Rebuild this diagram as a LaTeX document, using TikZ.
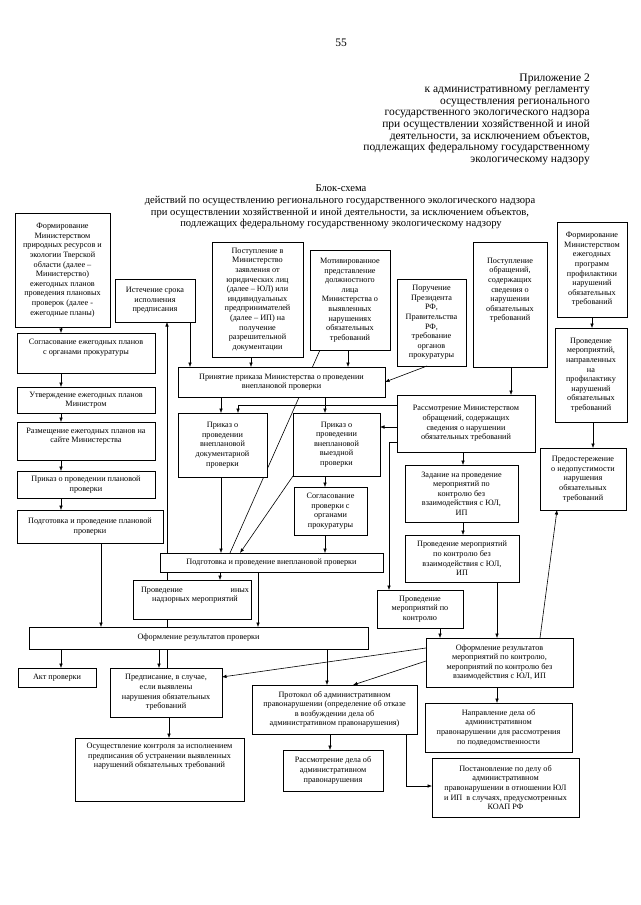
\documentclass[tikz,border=0pt]{standalone}
\usepackage{fontspec}
\setmainfont{Liberation Serif}
\usetikzlibrary{arrows.meta,backgrounds}
\tikzset{
  box/.style={draw, fill=white, line width=0.6pt, inner sep=2pt, outer sep=0pt,
    font=\fontsize{8.2}{9.6}\selectfont},
  arr/.style={-{Latex[length=4.5pt,width=3.6pt]}, line width=0.6pt},
  ln/.style={line width=0.6pt},
  hdr/.style={inner sep=0pt, font=\fontsize{11.5}{11.6}\selectfont},
  ttl/.style={inner sep=0pt, font=\fontsize{10.6}{11.5}\selectfont},
}
\newcommand\flowbox[7][c]{%
  \pgfmathsetmacro\fbW{#5-#3}\pgfmathsetmacro\fbH{#6-#4-4}\pgfmathsetmacro\fbT{#5-#3-4}%
  \node[box,anchor=north west,minimum width=\fbW pt] (#2) at (#3,#4)
    {\parbox[t][\fbH pt][#1]{\fbT pt}{\centering #7}};}
\begin{document}
\begin{tikzpicture}[x=1pt,y=-1pt]
\useasboundingbox (0,0) rectangle (640,905);

\node[hdr, anchor=base] (pg) at (341,46) {55};
\foreach \t [count=\i] in {Приложение 2, к административному регламенту, осуществления регионального, государственного экологического надзора, при осуществлении хозяйственной и иной, {деятельности, за исключением объектов,}, подлежащих федеральному государственному, экологическому надзору}
  \node[hdr, anchor=base east] (h\i) at (590,{81+11.6*(\i-1)}) {\t};

\node[ttl, anchor=base] (t0) at (341,191) {Блок-схема};
\node[ttl, anchor=base] (t1) at (340,203) {действий по осуществлению регионального государственного экологического надзора};
\node[ttl, anchor=base] (t2) at (340,215) {при осуществлении хозяйственной и иной деятельности, за исключением объектов,};
\node[ttl, anchor=base] (t3) at (341,226) {подлежащих федеральному государственному экологическому надзору};

% left column
\flowbox{b1}{15}{213}{110}{327}{Формирование\\Министерством\\природных ресурсов и\\экологии Тверской\\области (далее –\\Министерство)\\ежегодных планов\\проведения плановых\\проверок (далее -\\ежегодные планы)}
\flowbox[t]{b2}{17}{333}{155}{373}{\vspace*{4.5pt}Согласование ежегодных планов\\с органами прокуратуры}
\flowbox{b3}{17}{387}{155}{413}{Утверждение ежегодных планов\\Министром}
\flowbox[t]{b4}{17}{422}{155}{460}{\vspace*{4pt}Размещение ежегодных планов на\\сайте Министерства}
\flowbox{b5}{17}{471}{155}{498}{Приказ о проведении плановой\\проверки}
\flowbox{b6}{17}{510}{163}{543}{Подготовка и проведение плановой\\проверки}

% top row
\flowbox{istech}{115}{279}{195}{322}{Истечение срока\\исполнения\\предписания}
\flowbox{b8}{212}{242}{303}{357}{Поступление в\\Министерство\\заявления от\\юридических лиц\\(далее – ЮЛ) или\\индивидуальных\\предпринимателей\\(далее – ИП) на\\получение\\разрешительной\\документации}
\flowbox{b9}{310}{250}{390}{350}{Мотивированное\\представление\\должностного\\лица\\Министерства о\\выявленных\\нарушениях\\обязательных\\требований}
\flowbox{b10}{397}{279}{466}{366}{Поручение\\Президента\\РФ,\\Правительства\\РФ,\\требование\\органов\\прокуратуры}
\flowbox[t]{b11}{473}{242}{547}{367}{\vspace*{14pt}Поступление\\обращений,\\содержащих\\сведения о\\нарушении\\обязательных\\требований}
\flowbox{b12}{557}{222}{627}{317}{Формирование\\Министерством\\ежегодных\\программ\\профилактики\\нарушений\\обязательных\\требований}
\flowbox{b13}{555}{328}{627}{422}{Проведение\\мероприятий,\\направленных\\на\\профилактику\\нарушений\\обязательных\\требований}
\flowbox{b14}{540}{448}{626}{510}{Предостережение\\о недопустимости\\нарушения\\обязательных\\требований}

% middle
\flowbox{prin}{178}{367}{385}{397}{Принятие приказа Министерства о проведении\\внеплановой проверки}
\flowbox{prDoc}{178}{413}{267}{477}{Приказ о\\проведении\\внеплановой\\документарной\\проверки}
\flowbox{prVy}{293}{413}{380}{476}{Приказ о\\проведении\\внеплановой\\выездной\\проверки}
\flowbox{sogl}{294}{487}{367}{535}{Согласование\\проверки с\\органами\\прокуратуры}
\flowbox{podgV}{160}{553}{383}{572}{Подготовка и проведение внеплановой проверки}
\flowbox[t]{provIn}{133}{580}{251}{619}{\vspace*{5pt}\hspace*{6pt}Проведение\hfill иных\hspace*{6pt}\\\hspace*{6pt}надзорных мероприятий\hfill}
\flowbox{ofProv}{29}{627}{368}{649}{Оформление результатов проверки}
\flowbox{akt}{18}{668}{96}{687}{Акт проверки}
\flowbox{predp}{110}{668}{222}{717}{Предписание, в случае,\\если выявлены\\нарушения обязательных\\требований}
\flowbox[t]{osush}{75}{738}{244}{801}{\vspace*{3pt}Осуществление контроля за исполнением\\предписания об устранении выявленных\\нарушений обязательных требований}
\flowbox{protok}{252}{685}{417}{734}{Протокол об административном\\правонарушении (определение об отказе\\в возбуждении дела об\\административном правонарушения)}
\flowbox{rassmD}{283}{750}{383}{791}{Рассмотрение дела об\\административном\\правонарушения}

% right middle
\flowbox{rassm}{397}{395}{535}{452}{Рассмотрение Министерством\\обращений, содержащих\\сведения о нарушении\\обязательных требований}
\flowbox{zad}{405}{465}{518}{522}{Задание на проведение\\мероприятий по\\контролю без\\взаимодействия с ЮЛ,\\ИП}
\flowbox{provBez}{405}{535}{519}{582}{Проведение мероприятий\\по контролю без\\взаимодействия с ЮЛ,\\ИП}
\flowbox{provK}{377}{590}{463}{628}{Проведение\\мероприятий по\\контролю}
\flowbox{ofMer}{426}{638}{573}{687}{Оформление результатов\\мероприятий по контролю,\\мероприятий по контролю без\\взаимодействия с ЮЛ, ИП}
\flowbox{napr}{425}{703}{572}{752}{Направление дела об\\административном\\правонарушении для рассмотрения\\по подведомственности}
\flowbox{postan}{432}{758}{579}{817}{Постановление по делу об\\административном\\правонарушении в отношении ЮЛ\\и ИП\ \ в случаях, предусмотренных\\КОАП РФ}

% white page and lines passing behind boxes
\begin{scope}[on background layer]
  \fill[white] (0,0) rectangle (640,905);
  \draw[arr] (predp.north -| 167,0) -- (istech.south -| 167,0);
  \draw[ln] (b9.south -| 320,0) -- (podgV.north -| 230,0);
\end{scope}

% left column arrows
\draw[arr] (b1.south -| 61,0) -- (b2.north -| 61,0);
\draw[arr] (b2.south -| 61,0) -- (b3.north -| 61,0);
\draw[arr] (b3.south -| 61,0) -- (b4.north -| 61,0);
\draw[arr] (b4.south -| 61,0) -- (b5.north -| 61,0);
\draw[arr] (b5.south -| 61,0) -- (b6.north -| 61,0);
\draw[arr] (b6.south -| 101,0) -- (ofProv.north -| 101,0);

% into Принятие
\draw[arr] (istech.south -| 190,0) -- (prin.north -| 190,0);
\draw[arr] (b8.south -| 251,0) -- (prin.north -| 251,0);
\draw[arr] (b9.south -| 348,0) -- (prin.north -| 348,0);
\draw[arr] (b10.south -| 427,0) -- (prin.east);

% right column top
\draw[arr] (b11.south -| 511,0) -- (rassm.north -| 511,0);
\draw[arr] (b12.south -| 592,0) -- (b13.north -| 592,0);
\draw[arr] (b13.south -| 593,0) -- (b14.north -| 593,0);

% orders
\draw[arr] (prin.south -| 221,0) -- (prDoc.north -| 221,0);
\draw[arr] (rassm.west |- 0,405) -| (prDoc.north -| 238,0);
\draw[arr] (prin.south -| 325,0) -- (prVy.north -| 325,0);
\draw[arr] (rassm.west |- 0,427) -- (prVy.east |- 0,427);
\draw[arr] (prDoc.south -| 221,0) -- (podgV.north -| 221,0);
\draw[arr] (prVy.south west) -- (podgV.north -| 240,0);
\draw[arr] (prVy.south -| 325,0) -- (sogl.north -| 325,0);
\draw[arr] (sogl.south -| 325,0) -- (podgV.north -| 325,0);
\draw[arr] (podgV.south -| 220,0) -- (provIn.north -| 220,0);
\draw[arr] (podgV.south -| 258,0) -- (ofProv.north -| 258,0);

% control branch
\draw[arr] (rassm.west |- 0,442) -| (provK.north -| 389,0);
\draw[arr] (rassm.south -| 463,0) -- (zad.north -| 463,0);
\draw[arr] (zad.south -| 463,0) -- (provBez.north -| 463,0);
\draw[arr] (provBez.south -| 497,0) -- (ofMer.north -| 497,0);
\draw[arr] (provK.south -| 440,0) -- (ofMer.north -| 440,0);
\draw[arr] (ofMer.north -| 540,0) -- (b14.south -| 557,0);
\draw[arr] (ofMer.south -| 497,0) -- (napr.north -| 497,0);
\draw[arr] (ofMer.west |- 0,648) -- (predp.east |- 0,677);
\draw[arr] (ofMer.west |- 0,661) -- (protok.north -| 353,0);

% results
\draw[arr] (ofProv.south -| 61,0) -- (akt.north -| 61,0);
\draw[arr] (ofProv.south -| 159,0) -- (predp.north -| 159,0);
\draw[arr] (ofProv.south -| 327,0) -- (protok.north -| 327,0);
\draw[arr] (predp.south -| 169,0) -- (osush.north -| 169,0);
\draw[arr] (protok.south -| 330,0) -- (rassmD.north -| 330,0);
\draw[arr] (protok.south -| 406,0) |- (postan.west |- 0,786);
\end{tikzpicture}
\end{document}
